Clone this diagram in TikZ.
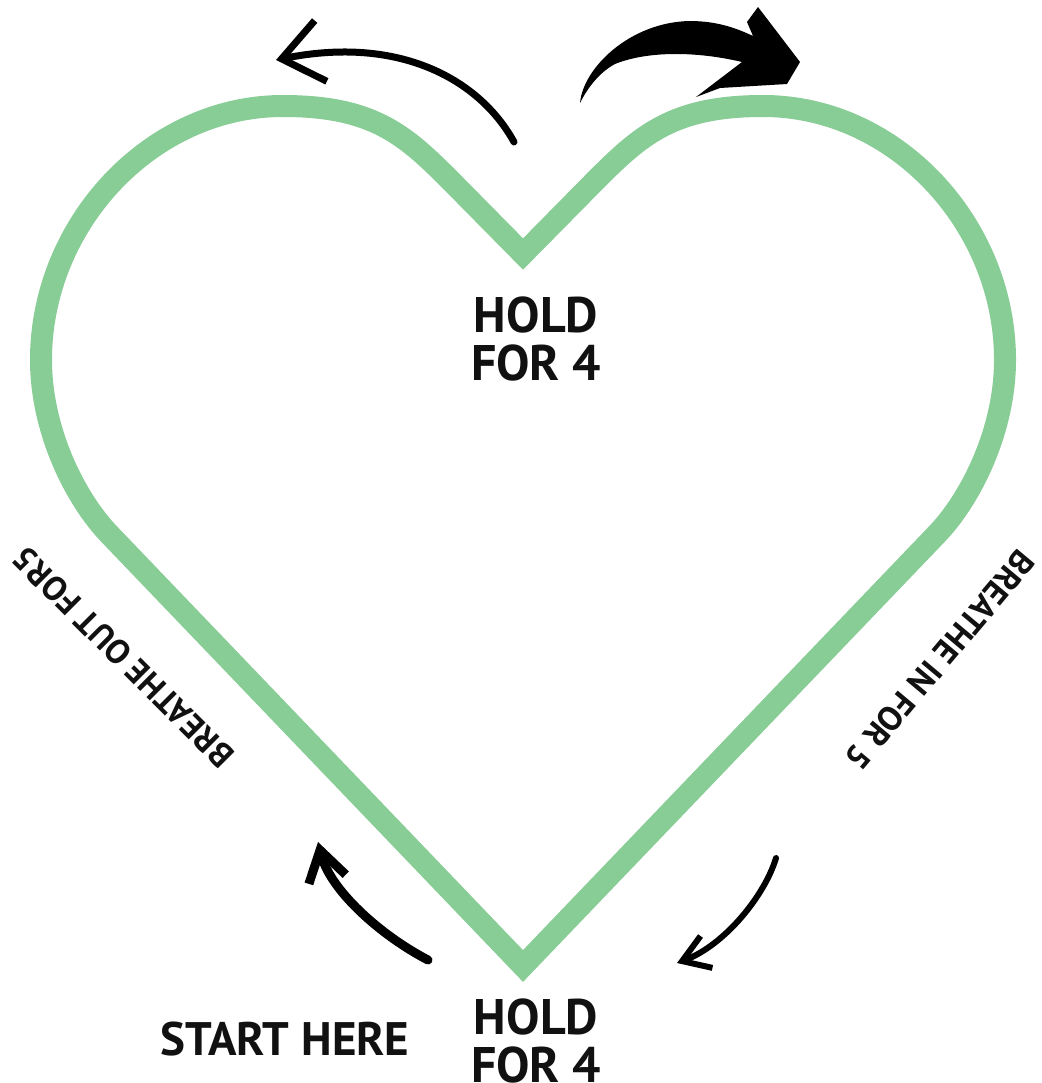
\documentclass[tikz,border=0pt]{standalone}
\usepackage{fontspec}
\setmainfont{PT Sans}
\usetikzlibrary{arrows.meta}
\definecolor{mint}{HTML}{88CC96}
\definecolor{ink}{HTML}{111111}
\tikzset{
  heart/.style={draw=mint, line width=22pt, line join=miter},
  lab/.style={font=\fontsize{50pt}{48pt}\selectfont\bfseries, text=ink,
    align=center, inner sep=0pt},
  side/.style={font=\fontsize{34pt}{34pt}\selectfont\bfseries, text=ink, inner sep=0pt},
  brush/.style={line cap=round, line join=round, color=black},
}

\begin{document}
\begin{tikzpicture}[x=1pt, y=-1pt]
    \useasboundingbox (0,0) rectangle (1041,1083);
    % heart outline
    \draw[heart] (523,254) -- (450,180)
      .. controls (405,135) and (373,106) .. (283,106)
      .. controls (150,106) and (41,225) .. (41,360)
      .. controls (41,430) and (75,499) .. (110,535)
      -- (523,966) -- (936,535)
      .. controls (971,499) and (1005,430) .. (1005,360)
      .. controls (1005,225) and (896,106) .. (763,106)
      .. controls (673,106) and (641,135) .. (596,180)
      -- cycle;
    % labels
    \node[lab] (holdtop) at (536,339) {HOLD\\FOR 4};
    \node[lab] (holdbot) at (536,1041) {HOLD\\FOR 4};
    \node[lab, font=\fontsize{47pt}{47pt}\selectfont\bfseries] (start) at (285,1039) {START HERE};
    \node[side, rotate=135] (out) at (123,657) {BREATHE OUT FOR5};
    \node[side, rotate=230] (in) at (940,660) {BREATHE IN FOR 5};
    % arrow ends
    \coordinate (tlA) at (514,142);
    \coordinate (tlB) at (276,60);
    \coordinate (blA) at (428,960);
    \coordinate (blB) at (318,842);
    \coordinate (brA) at (776,858);
    \coordinate (brB) at (677,963);
    \coordinate (trA) at (580,103);
    \coordinate (trB) at (800,62);
    \draw[brush, line width=7pt, -{Straight Barb[length=40pt, width=62pt]}]
      (tlA) .. controls (480,80) and (400,35) .. (tlB);
    \draw[brush, line width=9pt, -{Straight Barb[length=30pt, width=38pt]}]
      (blA) .. controls (380,935) and (330,890) .. (blB);
    \draw[brush, line width=6pt, -{Straight Barb[length=26pt, width=34pt]}]
      (brA) .. controls (765,895) and (725,945) .. (brB);
    % bold arrow
    \fill[black] (trA) .. controls (583,68) and (630,22) .. (690,21)
      .. controls (720,21) and (740,30) .. (753,36)
      -- (747,22) -- (758,7) -- (trB) -- (787,84) -- (720,88) -- (696,97) -- (742,62)
      .. controls (700,52) and (650,50) .. (615,64)
      .. controls (600,72) and (588,87) .. (trA) -- cycle;
\end{tikzpicture}
\end{document}
